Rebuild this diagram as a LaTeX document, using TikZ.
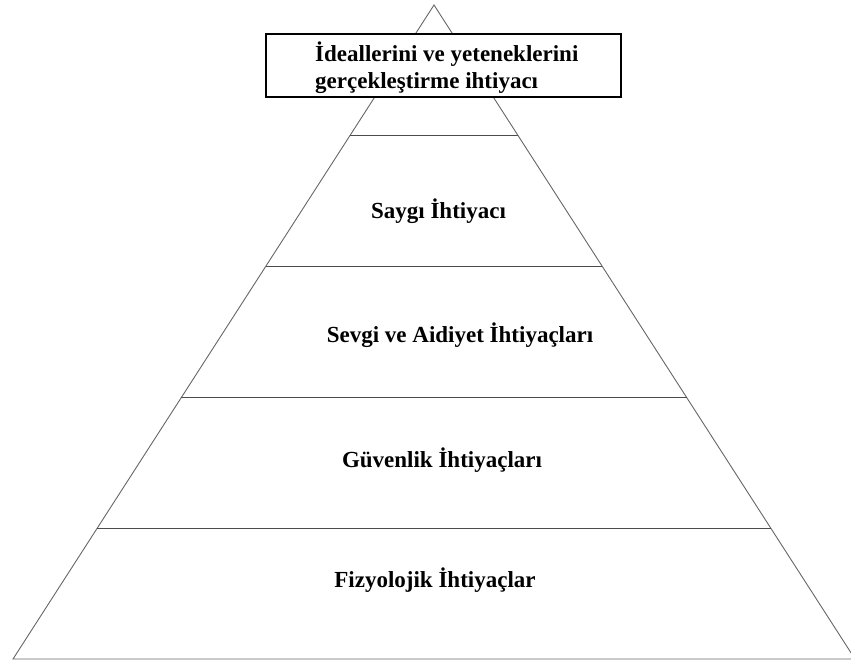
\documentclass[tikz,border=0pt]{standalone}
\usepackage{fontspec}
\setmainfont{Liberation Serif}
\usepackage{tikz}
\usetikzlibrary{calc, positioning}

\begin{document}
\begin{tikzpicture}[x=1pt, y=-1pt,
    edge/.style={draw=black!60, line width=0.9pt},
    level/.style={font=\bfseries\fontsize{23}{27}\selectfont, inner sep=0pt}]
\useasboundingbox (0,0) rectangle (851,661);
\clip (0,0) rectangle (851,661);
%
\coordinate (apex) at (434,5);
\coordinate (bl) at (13,659);
\coordinate (br) at (855,659);

\draw[edge] (bl) -- (apex) -- (br) -- cycle;
\foreach \t in {0.2,0.4,0.6,0.8}
  \draw[edge, draw=black!70, line width=1.1pt] ($(apex)!\t!(bl)$) -- ($(apex)!\t!(br)$);

% top box
\node[draw, line width=1.2pt, fill=white, minimum width=355pt,
      minimum height=63pt, inner sep=0pt] (frame) at (443.5,65.5) {};
\node[level, align=left, anchor=west] (ideal) at (315,68)
  {İdeallerini ve yeteneklerini\\gerçekleştirme ihtiyacı};

\node[level, anchor=base] (saygi) at (438.5,218) {Saygı İhtiyacı};
\node[level, anchor=base] (sevgi) at (460,342) {Sevgi ve Aidiyet İhtiyaçları};
\node[level, anchor=base] (guven) at (442,467) {Güvenlik İhtiyaçları};
\node[level, anchor=base] (fizyo) at (435,587) {Fizyolojik İhtiyaçlar};
%
\end{tikzpicture}
\end{document}
